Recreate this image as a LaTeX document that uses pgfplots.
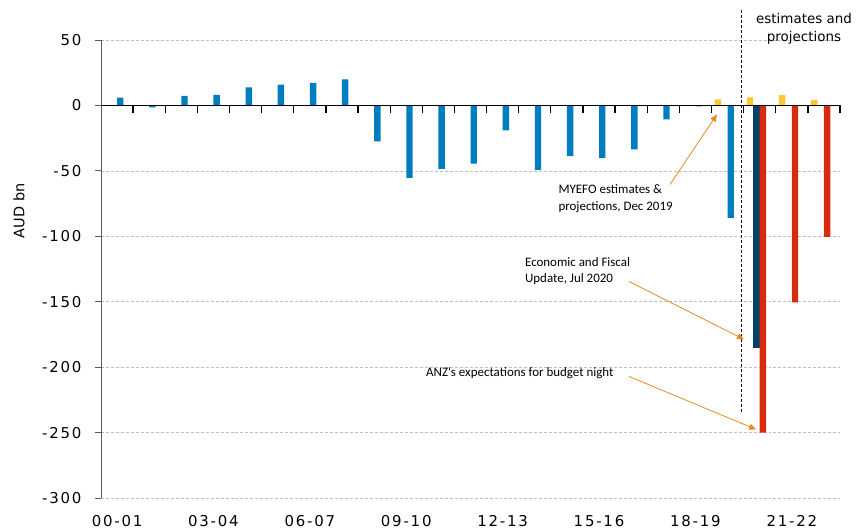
\documentclass[border=0pt]{standalone}
\usepackage{pgfplots}
\pgfplotsset{compat=1.18}
\usetikzlibrary{arrows.meta}
\usepackage{fontspec}
\setmainfont{DejaVu Sans}
\newfontfamily\tickfont[LetterSpace=12]{DejaVu Sans}
\newfontfamily\annfont{Carlito}
\definecolor{anzblue}{RGB}{0,125,190}
\definecolor{anznavy}{RGB}{0,65,101}
\definecolor{anzred}{RGB}{214,43,15}
\definecolor{anzgold}{RGB}{253,200,47}
\definecolor{arrowor}{RGB}{232,137,30}
\definecolor{axgrey}{RGB}{90,90,90}

\pgfplotstableread{
x y
0.1 6
1.1 -1.5
2.1 7.3
3.1 8
4.1 13.8
5.1 15.8
6.1 17.3
7.1 20
8.1 -27.5
9.1 -55.3
10.1 -48.4
11.1 -44.4
12.1 -19.1
13.1 -49.2
14.1 -38.8
15.1 -40
16.1 -33.6
17.1 -10.7
18.1 -0.8
19.1 -86
}\histtab
\pgfplotstableread{
x y
17.7 -0.6
18.7 4.6
19.7 6.1
20.7 7.9
21.7 4
}\myefotab
\pgfplotstableread{
x y
19.9 -185.5
}\eftab
\pgfplotstableread{
x y
20.1 -250
21.1 -150.5
22.1 -100.5
}\anztab

\begin{document}
\begin{tikzpicture}
\begin{axis}[
  scale only axis, width=739bp, height=458bp,
  xmin=-0.5, xmax=22.5, ymin=-300, ymax=50,
  clip=false,
  axis x line=bottom, axis y line=left,
  axis line style={-},
  x axis line style={draw=none},
  y axis line style={draw=axgrey, line width=0.8pt},
  xtick={0,3,...,21},
  xticklabels={00-01,03-04,06-07,09-10,12-13,15-16,18-19,21-22},
  xtick style={draw=none},
  ytick={-300,-250,-200,-150,-100,-50,0,50},
  yticklabels={-300,-250,-200,-150,-100,-50,0,50},
  ytick style={draw=axgrey, line width=0.8pt},
  tick align=outside, major tick length=6bp,
  ymajorgrids, grid style={densely dashed, black!25, line width=0.5pt},
  ticklabel style={font=\tickfont\fontsize{15}{18}\selectfont},
  yticklabel style={xshift=-10bp},
  xticklabel style={yshift=-8bp},
  ylabel={AUD bn},
  ylabel style={at={(axis description cs:-0.111,0.627)}, anchor=center, font=\fontsize{14.5}{17}\selectfont},
  ybar, bar width=6.4bp, bar shift=0pt,
]
\addplot[fill=anzblue, draw=none] table[x=x,y=y]{\histtab};
\addplot[fill=anzgold, draw=none] table[x=x,y=y]{\myefotab};
\addplot[fill=anznavy, draw=none] table[x=x,y=y]{\eftab};
\addplot[fill=anzred, draw=none] table[x=x,y=y]{\anztab};

\draw[black, densely dashed, line width=0.7pt] (axis cs:19.42,72.6) -- (axis cs:19.42,-235.4);
\node[align=center, font=\fontsize{13.5}{18}\selectfont] at (axis cs:21.38,58.8) {estimates and\\projections};

\node[anchor=west, align=left, font=\annfont\fontsize{13}{16.5}\selectfont] at (axis cs:13.63,-71.1) {MYEFO estimates \&\\projections, Dec 2019};
\node[anchor=west, align=left, font=\annfont\fontsize{13}{16.5}\selectfont] at (axis cs:12.59,-126.4) {Economic and Fiscal\\Update, Jul 2020};
\node[anchor=west, align=left, font=\annfont\fontsize{13}{16.5}\selectfont] at (axis cs:9.51,-204.8) {ANZ's expectations for budget night};

\draw[arrowor, line width=0.8pt, -{Triangle[length=7bp,width=6bp]}] (axis cs:17.21,-60.4) -- (axis cs:18.67,-6.9);
\draw[arrowor, line width=0.8pt, -{Triangle[length=7bp,width=6bp]}] (axis cs:15.93,-134.5) -- (axis cs:19.51,-178.8);
\draw[arrowor, line width=0.8pt, -{Triangle[length=7bp,width=6bp]}] (axis cs:15.93,-207.1) -- (axis cs:19.89,-247.6);
\end{axis}
\begin{axis}[
  scale only axis, width=739bp, height=458bp,
  xmin=-0.5, xmax=22.5, ymin=-300, ymax=50,
  axis x line=middle, axis y line=none,
  axis line style={-, black, line width=0.8pt},
  xtick={0.5,1.5,2.5,3.5,4.5,5.5,6.5,7.5,8.5,9.5,10.5,11.5,12.5,13.5,14.5,15.5,16.5,17.5,18.5,19.5,20.5,21.5,22.5},
  xticklabels={},
  x tick style={black, line width=1.3pt, yshift=-4bp},
  major tick length=8bp,
  ytick=\empty,
]
\end{axis}
\pgfresetboundingbox
\useasboundingbox ([xshift=-101bp,yshift=-33bp]current axis.south west) rectangle ([xshift=17bp,yshift=40bp]current axis.north east);
\end{tikzpicture}
\end{document}
